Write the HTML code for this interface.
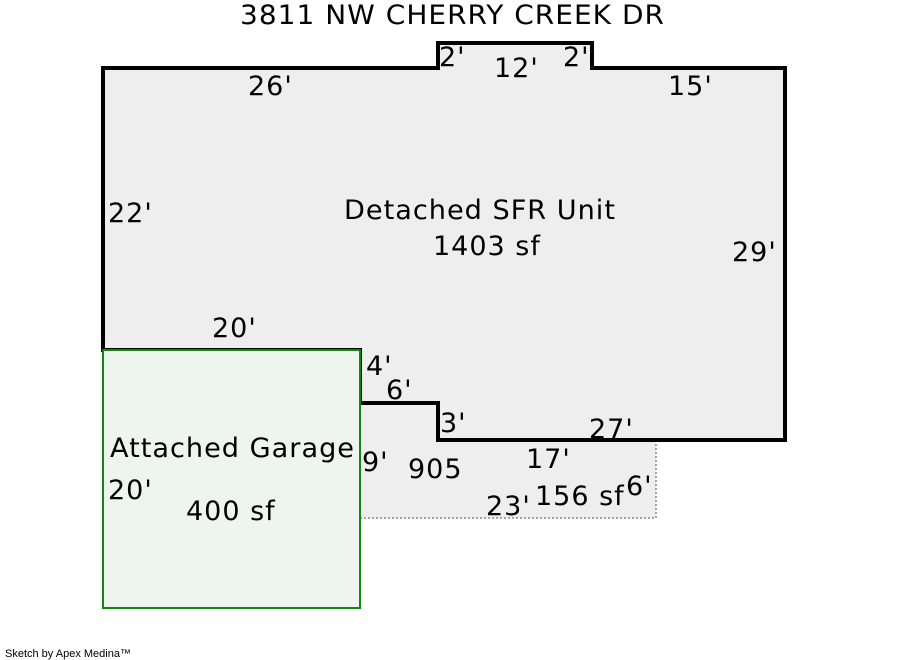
<!DOCTYPE html>
<html><head><meta charset="utf-8"><style>
html,body{margin:0;padding:0;background:#fff;}
svg{display:block;}
text{font-family:"DejaVu Sans","Liberation Sans",sans-serif;font-size:27px;letter-spacing:1px;fill:#000;}
</style></head><body>
<svg width="900" height="660" viewBox="0 0 900 660" xmlns="http://www.w3.org/2000/svg">
<rect x="0" y="0" width="900" height="660" fill="#fff"/>
<!-- patio -->
<rect x="360" y="403" width="296" height="115" fill="#eeeeee"/>
<path d="M360,518 L656,518 L656,440" fill="none" stroke="#888" stroke-width="1.5" stroke-dasharray="2,2"/>
<line x1="360" y1="403" x2="360" y2="518" stroke="#888" stroke-width="1.5" stroke-dasharray="2,2"/>
<!-- main house -->
<path d="M103,68 L438,68 L438,43 L592,43 L592,68 L785,68 L785,440 L438,440 L438,403 L360,403 L360,350 L103,350 Z" fill="#eeeeee" stroke="#000" stroke-width="4"/>
<!-- garage -->
<rect x="103" y="350" width="257" height="258" fill="#eef5ee" stroke="#118811" stroke-width="2"/>
<text x="240" y="24" textLength="425" lengthAdjust="spacingAndGlyphs">3811 NW CHERRY CREEK DR</text>
<text x="248" y="95">26'</text>
<text x="439" y="66">2'</text>
<text x="494" y="77">12'</text>
<text x="563" y="66">2'</text>
<text x="668" y="95">15'</text>
<text x="108" y="222">22'</text>
<text x="344" y="219" textLength="272" lengthAdjust="spacingAndGlyphs">Detached SFR Unit</text>
<text x="433" y="255">1403 sf</text>
<text x="732" y="261">29'</text>
<text x="212" y="337">20'</text>
<text x="366" y="375">4'</text>
<text x="386" y="399">6'</text>
<text x="440" y="432">3'</text>
<text x="589" y="438">27'</text>
<text x="110" y="457" textLength="245" lengthAdjust="spacingAndGlyphs">Attached Garage</text>
<text x="362" y="471">9'</text>
<text x="408" y="478">905</text>
<text x="526" y="468">17'</text>
<text x="108" y="499">20'</text>
<text x="486" y="515">23'</text>
<text x="535" y="505">156 sf</text>
<text x="626" y="495">6'</text>
<text x="186" y="520">400 sf</text>
<text x="5" y="657" style="font-family:'Liberation Sans',sans-serif;font-size:11px;letter-spacing:0;">Sketch by Apex Medina™</text>
</svg>
</body></html>
